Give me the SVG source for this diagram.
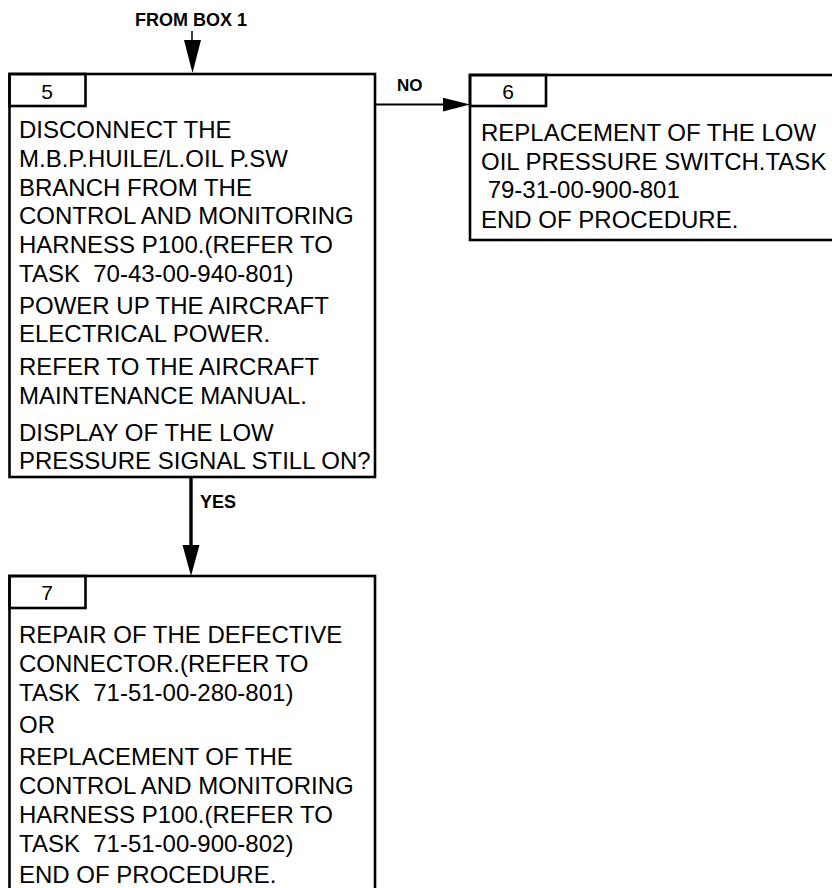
<svg xmlns="http://www.w3.org/2000/svg" width="832" height="888" viewBox="0 0 832 888">
<style>
.box{fill:#fff;stroke:#000;stroke-width:2.6}
.tab{fill:none;stroke:#000;stroke-width:2.6}
.t{font-family:"Liberation Sans",Arial,sans-serif;font-size:24px;fill:#000;white-space:pre}
.n{font-family:"Liberation Sans",Arial,sans-serif;font-size:21px;fill:#000;text-anchor:middle}
.lbl{font-family:"Liberation Sans",Arial,sans-serif;font-size:18px;font-weight:bold;fill:#000}
.ln{stroke:#000;fill:none}
.ah{fill:#000;stroke:none}
</style>
<rect width="832" height="888" fill="#fff"/>
<g id="connectors">
<text class="lbl" x="135" y="26">FROM BOX 1</text>
<line class="ln" x1="192" y1="31" x2="192" y2="42" stroke-width="1.5"/>
<polygon class="ah" points="184,40 201,40 192.5,73"/>
<line class="ln" x1="375" y1="104.5" x2="446" y2="104.5" stroke-width="2.2"/>
<polygon class="ah" points="443,97.8 443,111.5 470,104.5"/>
<text class="lbl" x="397" y="91" style="font-size:17px">NO</text>
<line class="ln" x1="191" y1="477" x2="191" y2="547" stroke-width="3.4"/>
<polygon class="ah" points="182.5,545 199.5,545 191,576"/>
<text class="lbl" x="200" y="508">YES</text>
</g>
<g id="box5">
<rect class="box" x="9.5" y="74" width="365.5" height="403"/>
<rect class="tab" x="9.5" y="74" width="76" height="32"/>
<text class="n" x="47" y="98.5">5</text>
<text class="t" x="19" y="138">DISCONNECT THE</text>
<text class="t" x="19" y="167">M.B.P.HUILE/L.OIL P.SW</text>
<text class="t" x="19" y="196">BRANCH FROM THE</text>
<text class="t" x="19" y="224">CONTROL AND MONITORING</text>
<text class="t" x="19" y="253">HARNESS P100.(REFER TO</text>
<text class="t" x="19" y="282">TASK  70-43-00-940-801)</text>
<text class="t" x="19" y="314">POWER UP THE AIRCRAFT</text>
<text class="t" x="19" y="342">ELECTRICAL POWER.</text>
<text class="t" x="19" y="375">REFER TO THE AIRCRAFT</text>
<text class="t" x="19" y="404">MAINTENANCE MANUAL.</text>
<text class="t" x="19" y="441">DISPLAY OF THE LOW</text>
<text class="t" x="19" y="469">PRESSURE SIGNAL STILL ON?</text>
</g>
<g id="box6">
<rect class="box" x="470" y="75" width="380" height="165"/>
<rect class="tab" x="470" y="75" width="76" height="31"/>
<text class="n" x="508" y="98.5">6</text>
<text class="t" x="481" y="141">REPLACEMENT OF THE LOW</text>
<text class="t" x="481" y="170">OIL PRESSURE SWITCH.TASK</text>
<text class="t" x="481" y="198"> 79-31-00-900-801</text>
<text class="t" x="481" y="228">END OF PROCEDURE.</text>
</g>
<g id="box7">
<rect class="box" x="9.5" y="576" width="365.5" height="330"/>
<rect class="tab" x="9.5" y="576" width="76" height="32"/>
<text class="n" x="47" y="600">7</text>
<text class="t" x="19" y="643">REPAIR OF THE DEFECTIVE</text>
<text class="t" x="19" y="672">CONNECTOR.(REFER TO</text>
<text class="t" x="19" y="701">TASK  71-51-00-280-801)</text>
<text class="t" x="19" y="733">OR</text>
<text class="t" x="19" y="765">REPLACEMENT OF THE</text>
<text class="t" x="19" y="794">CONTROL AND MONITORING</text>
<text class="t" x="19" y="823">HARNESS P100.(REFER TO</text>
<text class="t" x="19" y="852">TASK  71-51-00-900-802)</text>
<text class="t" x="19" y="883">END OF PROCEDURE.</text>
</g>
</svg>
